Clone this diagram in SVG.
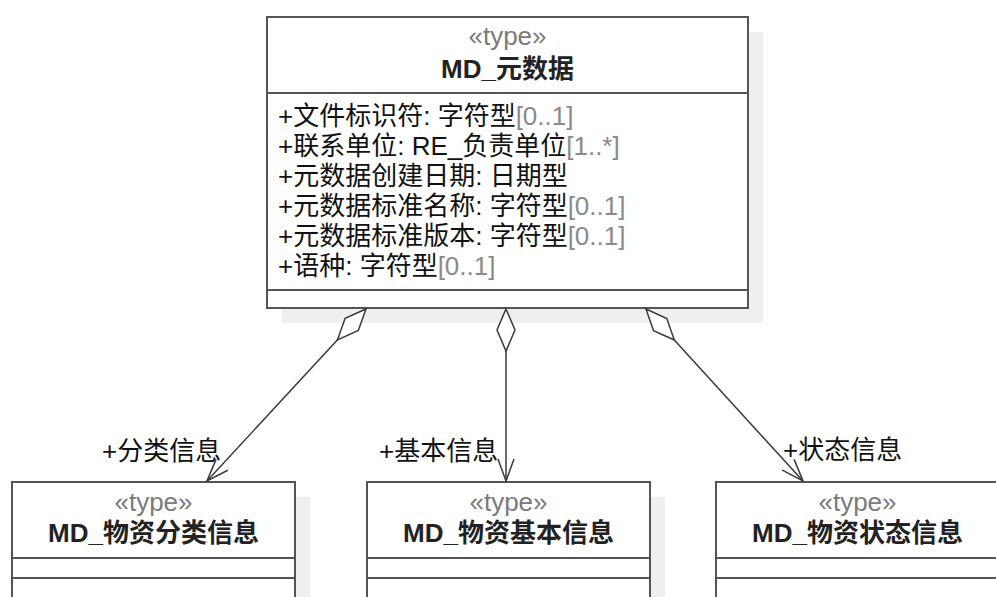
<svg xmlns="http://www.w3.org/2000/svg" width="996" height="597" viewBox="0 0 996 597">
<style>
  .bg { fill: #ffffff; }
  .shadow { fill: #efefef; stroke: none; }
  .box { fill: #ffffff; stroke: #555555; stroke-width: 2; }
  .sep { stroke: #555555; stroke-width: 2; }
  text { font-family: "Liberation Sans", "Noto Sans CJK SC", sans-serif; font-size: 26px; }
  .stereo { fill: #7a7a7a; text-anchor: middle; }
  .name { fill: #222222; font-weight: bold; text-anchor: middle; }
  .attr { fill: #111111; }
  .mult { fill: #8a8a8a; }
  .role { fill: #111111; }
  .conn { fill: none; stroke: #3a3a3a; stroke-width: 1.5; marker-start: url(#diamond); marker-end: url(#open-arrow); }
</style>
<defs>
  <marker id="diamond" markerUnits="userSpaceOnUse" viewBox="-1 -1 44 20" refX="0" refY="9" markerWidth="44" markerHeight="20" orient="auto" overflow="visible">
    <path d="M0,9 L21,0 L42,9 L21,18 Z" fill="#ffffff" stroke="#3a3a3a" stroke-width="1.5"/>
  </marker>
  <marker id="open-arrow" markerUnits="userSpaceOnUse" viewBox="-1 -1 25 20" refX="22" refY="9" markerWidth="25" markerHeight="20" orient="auto" overflow="visible">
    <path d="M0,1 L22,9 L0,17" fill="none" stroke="#3a3a3a" stroke-width="1.5"/>
  </marker>
</defs>
<rect class="bg" x="0" y="0" width="996" height="597"/>

<g id="md-metadata">
  <rect class="shadow" x="282" y="32" width="481" height="291"/>
  <rect class="box" x="267" y="17" width="481" height="291"/>
  <line class="sep" x1="267" y1="93" x2="748" y2="93"/>
  <line class="sep" x1="267" y1="290" x2="748" y2="290"/>
  <text class="stereo" x="507.5" y="45">«type»</text>
  <text class="name" x="507.5" y="78">MD_元数据</text>
  <text class="attr" x="278" y="125">+文件标识符: 字符型<tspan class="mult">[0..1]</tspan></text>
  <text class="attr" x="278" y="155">+联系单位: RE_负责单位<tspan class="mult">[1..*]</tspan></text>
  <text class="attr" x="278" y="185">+元数据创建日期: 日期型</text>
  <text class="attr" x="278" y="215">+元数据标准名称: 字符型<tspan class="mult">[0..1]</tspan></text>
  <text class="attr" x="278" y="245">+元数据标准版本: 字符型<tspan class="mult">[0..1]</tspan></text>
  <text class="attr" x="278" y="275">+语种: 字符型<tspan class="mult">[0..1]</tspan></text>
</g>

<g id="md-category">
  <rect class="shadow" x="27" y="497" width="283" height="116"/>
  <rect class="box" x="12" y="482" width="283" height="116"/>
  <line class="sep" x1="12" y1="558" x2="295" y2="558"/>
  <line class="sep" x1="12" y1="578" x2="295" y2="578"/>
  <text class="stereo" x="153.5" y="511">«type»</text>
  <text class="name" x="153.5" y="542">MD_物资分类信息</text>
</g>

<g id="md-basic">
  <rect class="shadow" x="382" y="497" width="283" height="116"/>
  <rect class="box" x="367" y="482" width="283" height="116"/>
  <line class="sep" x1="367" y1="558" x2="650" y2="558"/>
  <line class="sep" x1="367" y1="578" x2="650" y2="578"/>
  <text class="stereo" x="508.5" y="511">«type»</text>
  <text class="name" x="508.5" y="542">MD_物资基本信息</text>
</g>

<g id="md-status">
  <rect class="shadow" x="731" y="497" width="283" height="116"/>
  <rect class="box" x="716" y="482" width="283" height="116"/>
  <line class="sep" x1="716" y1="558" x2="999" y2="558"/>
  <line class="sep" x1="716" y1="578" x2="999" y2="578"/>
  <text class="stereo" x="857.5" y="511">«type»</text>
  <text class="name" x="857.5" y="542">MD_物资状态信息</text>
</g>

<g id="connectors">
  <path class="conn" d="M366,309 L207,481"/>
  <path class="conn" d="M506,309 L506,481"/>
  <path class="conn" d="M646,309 L803,481"/>
  <text class="role" x="102" y="460">+分类信息</text>
  <text class="role" x="379" y="460">+基本信息</text>
  <text class="role" x="783" y="459">+状态信息</text>
</g>
</svg>
